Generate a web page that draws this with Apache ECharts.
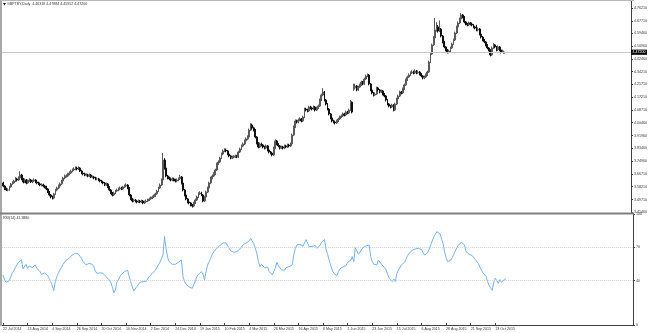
<!DOCTYPE html>
<html><head><meta charset="utf-8">
<script src="https://cdn.jsdelivr.net/npm/echarts@6/dist/echarts.min.js"></script>
<style>html,body{margin:0;padding:0;background:#fff}#c{width:650px;height:333px}</style>
</head><body><div id="c"></div>
<script>
// ---- Data ----
const tickLabels = ['22 Jul 2014','13 Aug 2014','4 Sep 2014','26 Sep 2014','20 Oct 2014','10 Nov 2014','2 Dec 2014','24 Dec 2014','19 Jan 2015','10 Feb 2015','4 Mar 2015','26 Mar 2015','16 Apr 2015','8 May 2015','1 Jun 2015','23 Jun 2015','15 Jul 2015','6 Aug 2015','28 Aug 2015','21 Sep 2015','13 Oct 2015'];
const priceTicks = [4.76210,4.67710,4.59460,4.50960,4.42460,4.34210,4.25710,4.17210,4.08710,4.00460,3.91960,3.83460,3.74960,3.66710,3.58210,3.49710,3.41460];
const rsiTicks = [0,40,70,100];
const rsiLevels = [70,40];
const lastBar = {open:4.46318, high:4.47884, low:4.45952, close:4.47200};
const lastRsi = 41.3880;

const opens = [
3.600,3.606,3.586,3.567,3.560,3.560,3.580,3.600,3.606,3.619,
3.633,3.626,3.639,3.659,3.633,3.613,3.626,3.606,3.619,3.626,
3.613,3.619,3.626,3.613,3.606,3.600,3.593,3.593,3.586,3.580,
3.567,3.547,3.527,3.514,3.507,3.534,3.560,3.573,3.586,3.600,
3.619,3.639,3.652,3.652,3.666,3.672,3.685,3.692,3.699,3.705,
3.699,3.705,3.685,3.672,3.666,3.659,3.659,3.652,3.659,3.646,
3.646,3.639,3.633,3.633,3.626,3.619,3.613,3.606,3.593,3.600,
3.580,3.560,3.540,3.527,3.540,3.553,3.560,3.567,3.573,3.567,
3.580,3.586,3.593,3.573,3.527,3.501,3.487,3.494,3.487,3.481,
3.487,3.481,3.487,3.474,3.481,3.487,3.494,3.501,3.507,3.514,
3.520,3.534,3.553,3.573,3.593,3.626,3.758,3.705,3.652,3.639,
3.633,3.626,3.633,3.626,3.619,3.626,3.633,3.646,3.606,3.560,
3.527,3.501,3.481,3.474,3.461,3.454,3.474,3.494,3.514,3.534,
3.540,3.527,3.487,3.514,3.547,3.573,3.606,3.639,3.652,3.666,
3.692,3.732,3.745,3.771,3.798,3.818,3.824,3.818,3.798,3.785,
3.771,3.778,3.778,3.785,3.778,3.811,3.831,3.851,3.864,3.884,
3.897,3.910,3.956,3.989,3.970,3.956,3.910,3.870,3.844,3.864,
3.857,3.844,3.837,3.851,3.824,3.811,3.804,3.791,3.837,3.884,
3.864,3.851,3.837,3.844,3.837,3.851,3.844,3.857,3.851,3.864,
3.923,3.976,4.016,4.009,4.022,4.029,4.016,4.042,4.095,4.088,
4.082,4.108,4.102,4.095,4.108,4.088,4.102,4.115,4.154,4.187,
4.207,4.154,4.128,4.095,4.062,4.036,4.016,4.009,4.003,4.016,
4.029,4.042,4.049,4.062,4.055,4.075,4.069,4.088,4.140,4.225,
4.234,4.247,4.221,4.240,4.254,4.273,4.260,4.293,4.313,4.320,
4.260,4.221,4.201,4.187,4.194,4.234,4.221,4.207,4.214,4.194,
4.181,4.154,4.128,4.115,4.108,4.121,4.088,4.128,4.161,4.181,
4.207,4.201,4.227,4.254,4.287,4.306,4.320,4.333,4.339,4.333,
4.346,4.333,4.339,4.326,4.313,4.300,4.306,4.320,4.339,4.405,
4.458,4.518,4.564,4.617,4.637,4.610,4.623,4.577,4.538,4.505,
4.485,4.471,4.478,4.498,4.524,4.551,4.597,4.637,4.663,4.689,
4.716,4.703,4.670,4.656,4.650,4.663,4.656,4.650,4.637,4.630,
4.617,4.623,4.590,4.570,4.551,4.538,4.518,4.498,4.485,4.452,
4.498,4.518,4.505,4.485,4.505,4.485,4.471,4.463];
const closes = [
3.606,3.586,3.567,3.560,3.560,3.580,3.600,3.606,3.619,3.633,
3.626,3.639,3.659,3.633,3.613,3.626,3.606,3.619,3.626,3.613,
3.619,3.626,3.613,3.606,3.600,3.593,3.593,3.586,3.580,3.567,
3.547,3.527,3.514,3.507,3.534,3.560,3.573,3.586,3.600,3.619,
3.639,3.652,3.652,3.666,3.672,3.685,3.692,3.699,3.705,3.699,
3.705,3.685,3.672,3.666,3.659,3.659,3.652,3.659,3.646,3.646,
3.639,3.633,3.633,3.626,3.619,3.613,3.606,3.593,3.600,3.580,
3.560,3.540,3.527,3.540,3.553,3.560,3.567,3.573,3.567,3.580,
3.586,3.593,3.573,3.527,3.501,3.487,3.494,3.487,3.481,3.487,
3.481,3.487,3.474,3.481,3.487,3.494,3.501,3.507,3.514,3.520,
3.534,3.553,3.573,3.593,3.626,3.758,3.705,3.652,3.639,3.633,
3.626,3.633,3.626,3.619,3.626,3.633,3.646,3.606,3.560,3.527,
3.501,3.481,3.474,3.461,3.454,3.474,3.494,3.514,3.534,3.540,
3.527,3.487,3.514,3.547,3.573,3.606,3.639,3.652,3.666,3.692,
3.732,3.745,3.771,3.798,3.818,3.824,3.818,3.798,3.785,3.771,
3.778,3.778,3.785,3.778,3.811,3.831,3.851,3.864,3.884,3.897,
3.910,3.956,3.989,3.970,3.956,3.910,3.870,3.844,3.864,3.857,
3.844,3.837,3.851,3.824,3.811,3.804,3.791,3.837,3.884,3.864,
3.851,3.837,3.844,3.837,3.851,3.844,3.857,3.851,3.864,3.923,
3.976,4.016,4.009,4.022,4.029,4.016,4.042,4.095,4.088,4.082,
4.108,4.102,4.095,4.108,4.088,4.102,4.115,4.154,4.187,4.207,
4.154,4.128,4.095,4.062,4.036,4.016,4.009,4.003,4.016,4.029,
4.042,4.049,4.062,4.055,4.075,4.069,4.088,4.140,4.075,4.234,
4.247,4.221,4.240,4.254,4.273,4.260,4.293,4.313,4.320,4.260,
4.221,4.201,4.187,4.194,4.234,4.221,4.207,4.214,4.194,4.181,
4.154,4.128,4.115,4.108,4.121,4.088,4.128,4.161,4.181,4.207,
4.201,4.227,4.254,4.287,4.306,4.320,4.333,4.339,4.333,4.346,
4.333,4.339,4.326,4.313,4.300,4.306,4.320,4.339,4.405,4.458,
4.518,4.564,4.617,4.637,4.610,4.623,4.577,4.538,4.505,4.485,
4.471,4.478,4.498,4.524,4.551,4.597,4.637,4.663,4.689,4.716,
4.703,4.670,4.656,4.650,4.663,4.656,4.650,4.637,4.630,4.617,
4.623,4.590,4.570,4.551,4.538,4.518,4.498,4.485,4.452,4.498,
4.518,4.505,4.485,4.505,4.485,4.471,4.478,4.472];
const highs = [
3.615,3.614,3.592,3.575,3.571,3.588,3.607,3.618,3.627,3.645,
3.641,3.650,3.684,3.667,3.640,3.636,3.632,3.630,3.638,3.633,
3.628,3.636,3.632,3.620,3.615,3.609,3.604,3.601,3.594,3.588,
3.573,3.553,3.534,3.522,3.541,3.568,3.582,3.596,3.609,3.628,
3.647,3.662,3.664,3.674,3.684,3.694,3.702,3.710,3.716,3.714,
3.717,3.711,3.693,3.680,3.674,3.670,3.667,3.668,3.665,3.656,
3.653,3.647,3.644,3.640,3.633,3.627,3.620,3.613,3.609,3.606,
3.586,3.566,3.547,3.549,3.561,3.569,3.576,3.583,3.581,3.588,
3.596,3.603,3.599,3.579,3.533,3.508,3.503,3.501,3.495,3.497,
3.494,3.496,3.494,3.490,3.497,3.503,3.510,3.517,3.523,3.530,
3.542,3.562,3.582,3.603,3.636,3.804,3.770,3.712,3.660,3.648,
3.642,3.643,3.641,3.634,3.636,3.643,3.660,3.652,3.612,3.566,
3.533,3.508,3.489,3.480,3.468,3.482,3.503,3.523,3.545,3.552,
3.548,3.533,3.522,3.556,3.582,3.615,3.648,3.663,3.677,3.701,
3.741,3.756,3.780,3.807,3.828,3.836,3.833,3.824,3.805,3.792,
3.787,3.789,3.794,3.792,3.819,3.840,3.860,3.874,3.893,3.907,
3.921,3.966,4.001,3.998,3.978,3.962,3.916,3.876,3.873,3.872,
3.864,3.852,3.860,3.857,3.830,3.818,3.810,3.846,3.894,3.890,
3.870,3.857,3.853,3.851,3.860,3.858,3.866,3.865,3.873,3.933,
3.986,4.026,4.024,4.032,4.040,4.036,4.051,4.104,4.103,4.097,
4.117,4.116,4.109,4.118,4.114,4.111,4.124,4.164,4.197,4.233,
4.214,4.161,4.134,4.101,4.068,4.042,4.024,4.017,4.025,4.038,
4.051,4.059,4.072,4.070,4.084,4.083,4.097,4.154,4.145,4.262,
4.262,4.253,4.249,4.263,4.282,4.280,4.302,4.322,4.330,4.326,
4.266,4.228,4.208,4.203,4.243,4.241,4.227,4.223,4.220,4.200,
4.187,4.160,4.134,4.122,4.130,4.127,4.137,4.170,4.190,4.216,
4.215,4.236,4.263,4.296,4.315,4.330,4.343,4.350,4.348,4.357,
4.353,4.349,4.345,4.332,4.319,4.316,4.329,4.348,4.414,4.467,
4.527,4.576,4.696,4.668,4.650,4.680,4.630,4.584,4.545,4.512,
4.492,4.488,4.507,4.533,4.560,4.606,4.646,4.673,4.699,4.728,
4.722,4.709,4.676,4.664,4.672,4.670,4.666,4.656,4.645,4.651,
4.633,4.629,4.596,4.577,4.557,4.544,4.524,4.504,4.490,4.507,
4.530,4.524,4.511,4.514,4.511,4.491,4.487,4.479];
const lows = [
3.592,3.578,3.560,3.553,3.551,3.555,3.574,3.594,3.600,3.612,
3.617,3.620,3.632,3.625,3.604,3.606,3.598,3.600,3.612,3.606,
3.605,3.611,3.605,3.598,3.592,3.585,3.584,3.578,3.571,3.559,
3.540,3.518,3.505,3.497,3.500,3.528,3.552,3.566,3.579,3.593,
3.612,3.631,3.642,3.645,3.657,3.665,3.677,3.684,3.690,3.690,
3.691,3.678,3.664,3.657,3.651,3.650,3.644,3.645,3.638,3.637,
3.631,3.624,3.624,3.618,3.611,3.605,3.598,3.585,3.586,3.572,
3.552,3.532,3.518,3.520,3.533,3.546,3.552,3.559,3.559,3.560,
3.573,3.579,3.565,3.518,3.493,3.478,3.480,3.478,3.472,3.474,
3.473,3.474,3.466,3.467,3.474,3.480,3.487,3.494,3.500,3.506,
3.513,3.527,3.546,3.566,3.587,3.620,3.695,3.644,3.630,3.624,
3.617,3.618,3.617,3.610,3.611,3.618,3.626,3.597,3.551,3.518,
3.492,3.472,3.465,3.452,3.444,3.447,3.467,3.487,3.507,3.527,
3.519,3.479,3.480,3.507,3.540,3.566,3.599,3.631,3.645,3.658,
3.685,3.724,3.737,3.764,3.790,3.810,3.809,3.789,3.776,3.763,
3.764,3.769,3.771,3.770,3.772,3.804,3.824,3.843,3.857,3.877,
3.889,3.903,3.949,3.961,3.947,3.901,3.861,3.835,3.837,3.848,
3.835,3.828,3.830,3.815,3.802,3.795,3.782,3.785,3.830,3.855,
3.842,3.828,3.830,3.828,3.830,3.836,3.837,3.842,3.844,3.857,
3.916,3.969,3.999,4.001,4.014,4.007,4.009,4.035,4.079,4.073,
4.075,4.093,4.086,4.088,4.079,4.081,4.095,4.108,4.147,4.180,
4.145,4.119,4.086,4.053,4.027,4.007,4.000,3.993,3.996,4.009,
4.022,4.035,4.042,4.046,4.048,4.060,4.062,4.081,4.066,4.215,
4.226,4.212,4.214,4.233,4.247,4.252,4.254,4.286,4.305,4.251,
4.212,4.192,4.178,4.180,4.188,4.212,4.198,4.200,4.185,4.172,
4.145,4.119,4.106,4.099,4.101,4.079,4.082,4.121,4.154,4.174,
4.192,4.194,4.220,4.247,4.280,4.299,4.312,4.325,4.324,4.326,
4.324,4.326,4.317,4.304,4.291,4.292,4.299,4.313,4.332,4.398,
4.451,4.511,4.556,4.606,4.600,4.603,4.568,4.529,4.496,4.476,
4.462,4.462,4.471,4.491,4.517,4.544,4.590,4.630,4.656,4.682,
4.694,4.661,4.647,4.641,4.643,4.647,4.641,4.628,4.621,4.608,
4.608,4.581,4.561,4.542,4.529,4.509,4.489,4.476,4.443,4.446,
4.491,4.496,4.476,4.478,4.476,4.462,4.465,4.460];
const rsi = [
45.1,40.6,38.5,37.9,39.7,43.3,46.6,48.7,51.7,54.1,
56.5,57.7,58.6,50.5,48.7,54.7,51.1,53.2,54.7,51.7,
52.9,54.1,51.1,49.6,48.1,45.7,46.6,46.9,46.3,44.5,
42.1,39.1,35.5,31.0,39.1,43.6,46.6,49.6,51.7,54.7,
56.5,58.3,58.3,60.1,61.3,63.1,64.0,64.6,65.5,64.0,
65.0,60.0,57.1,55.6,54.1,54.7,55.6,57.1,54.7,52.6,
48.7,46.6,45.7,46.9,47.5,46.6,45.1,43.6,42.1,40.6,
38.5,34.6,28.9,31.6,38.5,40.6,43.6,45.7,46.6,48.1,
48.7,49.3,43.6,39.1,34.6,30.7,32.5,34.6,36.1,38.5,
36.7,39.1,37.6,39.1,40.3,43.6,45.1,46.3,47.5,49.3,
51.7,54.1,56.5,58.3,63.1,79.6,69.1,60.7,57.1,55.6,
54.7,55.6,54.7,54.1,56.5,57.7,58.6,43.6,39.1,36.7,
35.5,34.3,33.7,33.1,32.8,39.7,43.6,45.7,47.5,48.1,
45.7,40.6,48.1,54.1,57.1,60.1,63.7,66.1,67.3,69.1,
70.9,71.5,72.7,73.9,74.5,73.9,72.1,69.1,66.7,64.9,
65.5,65.5,66.1,64.9,68.5,70.3,72.1,72.7,73.9,74.5,
75.7,78.1,79.3,73.3,71.5,64.6,57.1,52.6,54.7,53.5,
51.7,50.5,52.3,48.1,46.3,45.1,44.5,51.1,56.5,53.5,
51.7,49.6,50.5,49.3,51.7,50.5,52.6,51.7,54.1,63.1,
69.1,72.1,71.2,72.7,73.3,70.9,73.9,76.9,75.7,70.6,
72.1,70.9,70.3,71.5,69.1,70.3,71.5,74.5,76.3,76.9,
67.6,63.7,58.6,53.5,49.6,46.6,45.1,44.5,48.1,50.5,
51.7,52.3,54.1,53.5,56.5,55.6,58.3,61.6,57.1,69.7,
70.9,63.7,65.5,67.6,69.7,68.5,71.2,72.1,72.1,61.6,
57.1,54.7,52.9,54.1,58.6,57.1,54.7,55.6,51.7,49.6,
45.7,42.1,40.6,39.1,41.5,39.1,46.3,49.6,51.7,54.1,
53.5,56.5,59.5,62.5,64.6,66.1,67.3,68.5,68.5,70.3,
69.1,69.7,67.9,65.5,63.1,63.7,64.9,66.7,72.1,75.7,
79.3,81.7,84.1,84.7,82.3,82.9,73.6,66.1,60.7,57.1,
56.5,58.3,60.7,63.7,66.7,69.7,72.1,73.3,74.5,75.7,
72.1,66.1,64.3,63.7,65.5,62.5,60.7,58.9,57.7,55.3,
54.1,49.3,46.9,45.1,43.9,39.1,35.5,33.7,31.3,38.5,
42.1,40.3,37.6,40.9,38.5,39.7,41.2,41.4];

// category slots: trading days from 22 Jul 2014 (chart shifted, empty space at right)
const MONTHS = ['Jan','Feb','Mar','Apr','May','Jun','Jul','Aug','Sep','Oct','Nov','Dec'];
const categories = [];
(function(){
  const d = new Date(Date.UTC(2014,6,22));
  while (categories.length < 410) {
    const w = d.getUTCDay();
    if (w !== 0 && w !== 6) categories.push(d.getUTCDate()+' '+MONTHS[d.getUTCMonth()]+' '+d.getUTCFullYear());
    d.setUTCDate(d.getUTCDate()+1);
  }
})();

const candleData = opens.map((o,i)=>[o, closes[i], lows[i], highs[i]]);

const FONT = 'Liberation Sans';
const FS = 3.6;
const chart = echarts.init(document.getElementById('c'), null, {renderer:'canvas'});
chart.setOption({
  animation:false,
  backgroundColor:'#ffffff',
  textStyle:{fontFamily:FONT},
  grid:[
    {left:1, width:632, top:1, height:212, show:false},
    {left:1, width:632, top:214, height:111, show:false}
  ],
  xAxis:[
    {type:'category', gridIndex:0, data:categories, boundaryGap:true,
     axisLine:{show:false}, axisTick:{show:false}, axisLabel:{show:false}, splitLine:{show:false}},
    {type:'category', gridIndex:1, data:categories, boundaryGap:true,
     axisLine:{show:true, lineStyle:{color:'#404040', width:1}},
     axisTick:{show:true, inside:true, length:2, alignWithLabel:true, lineStyle:{color:'#404040'},
       interval:(i)=> i%16===0 && i<=320},
     axisLabel:{show:true, fontSize:FS, fontFamily:FONT, color:'#333', align:'left', margin:2,
       interval:(i)=> i%16===0 && i<=320,
       formatter:(v,i)=> tickLabels[i/16] || ''},
     splitLine:{show:false}}
  ],
  yAxis:[
    {type:'value', gridIndex:0, position:'right', min:3.4080, max:4.8083, scale:true,
     axisLine:{show:true, lineStyle:{color:'#404040', width:1}},
     axisTick:{show:true, length:2, customValues:priceTicks, lineStyle:{color:'#404040'}},
     axisLabel:{show:true, fontSize:FS, fontFamily:FONT, color:'#333', margin:3,
       customValues:priceTicks, formatter:(v)=>v.toFixed(5)},
     splitLine:{show:false}},
    {type:'value', gridIndex:1, position:'right', min:0, max:100,
     axisLine:{show:true, lineStyle:{color:'#404040', width:1}},
     axisTick:{show:true, length:2, customValues:rsiTicks, lineStyle:{color:'#404040'}},
     axisLabel:{show:true, fontSize:FS, fontFamily:FONT, color:'#333', margin:3,
       customValues:rsiTicks, formatter:(v)=>String(v)},
     splitLine:{show:false}}
  ],
  series:[
    {type:'candlestick', name:'GBPTRY', xAxisIndex:0, yAxisIndex:0, data:candleData,
     barWidth:1.4,
     itemStyle:{color:'#9a9a9a', borderColor:'#5a5a5a', color0:'#111', borderColor0:'#111', borderWidth:1},
     markLine:{silent:true, symbol:['none','none'], animation:false,
       lineStyle:{color:'#c8c8c8', width:1, type:'solid'},
       label:{show:true, position:'end', distance:0, formatter:lastBar.close.toFixed(5),
         backgroundColor:'#000', color:'#fff', fontSize:FS, fontFamily:FONT, padding:[0.6,1.5]},
       data:[{yAxis:lastBar.close}]},
     z:3},
    {type:'line', name:'RSI(14)', xAxisIndex:1, yAxisIndex:1, data:rsi,
     symbol:'none', lineStyle:{color:'#72b4f2', width:1}, itemStyle:{color:'#72b4f2'},
     markLine:{silent:true, symbol:['none','none'], animation:false,
       lineStyle:{color:'#d0d0d0', width:1, type:'dotted'}, label:{show:false},
       data: rsiLevels.map(v=>({yAxis:v}))}}
  ],
  graphic:[
    {type:'rect', left:0, top:0, shape:{width:2, height:326}, style:{fill:'#a8a8a8'}, z:10},
    {type:'rect', left:0, top:0, shape:{width:634, height:1}, style:{fill:'#b8b8b8'}, z:10},
    {type:'rect', left:0, top:212.5, shape:{width:634, height:2}, style:{fill:'#808080'}, z:10},
    {type:'polygon', shape:{points:[[3,3],[6,3],[4.5,5.5]]}, style:{fill:'#222'}, z:10},
    {type:'text', x:7, y:4, style:{text:'GBPTRY,Daily  '+[lastBar.open,lastBar.high,lastBar.low,lastBar.close].map(v=>v.toFixed(5)).join(' '), fontSize:FS, fontFamily:FONT, fill:'#333', verticalAlign:'middle'}, z:10},
    {type:'text', x:3, y:217.7, style:{text:'RSI(14) '+lastRsi.toFixed(4), fontSize:FS, fontFamily:FONT, fill:'#333', verticalAlign:'middle'}, z:10}
  ]
});
</script>
</body></html>
